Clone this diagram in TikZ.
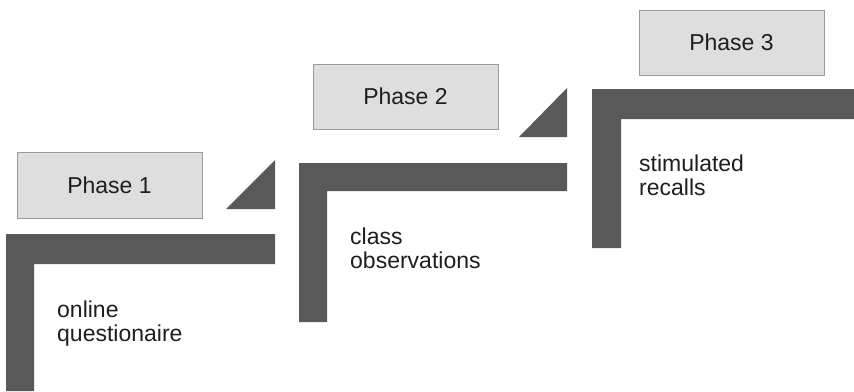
\documentclass[tikz,border=0pt]{standalone}
\usepackage{fontspec}
\setmainfont{Liberation Sans}
\definecolor{darkbar}{HTML}{595959}
\definecolor{boxfill}{HTML}{DEDEDE}
\definecolor{boxline}{HTML}{9A9A9A}
\definecolor{txt}{HTML}{1E1E1E}
\begin{document}
\begin{tikzpicture}[x=1pt,y=-1pt,
  phasebox/.style={draw=boxline, line width=0.8pt, fill=boxfill},
  bar/.style={fill=darkbar, draw=none},
  lbl/.style={text=txt, font=\fontsize{23}{24}\selectfont, inner sep=0pt},
  desc/.style={lbl, align=left, anchor=north west}]
\useasboundingbox (0,0) rectangle (854,391);
% phase boxes
\draw[phasebox] (17,152) rectangle (202,218);
\draw[phasebox] (313,64) rectangle (498,129);
\draw[phasebox] (639,10) rectangle (824,75);
\node[lbl] (p1) at (109.5,185) {Phase 1};
\node[lbl] (p2) at (405.5,96.5) {Phase 2};
\node[lbl] (p3) at (731.5,42.5) {Phase 3};
% L-shaped steps
\fill[bar] (6,234) -- (275,234) -- (275,264) -- (34,264) -- (34,391) -- (6,391) -- cycle;
\fill[bar] (299,163) -- (567,163) -- (567,191) -- (327,191) -- (327,322) -- (299,322) -- cycle;
\fill[bar] (592,89) -- (854,89) -- (854,119) -- (621,119) -- (621,248) -- (592,248) -- cycle;
% triangles
\fill[bar] (275,160) -- (275,209) -- (226,209) -- cycle;
\fill[bar] (567,88) -- (567,137) -- (519,137) -- cycle;
% descriptions
\node[desc] (d1) at (57,301) {online\\questionaire};
\node[desc] (d2) at (350,228) {class\\observations};
\node[desc] (d3) at (639,155) {stimulated\\recalls};
\end{tikzpicture}
\end{document}
